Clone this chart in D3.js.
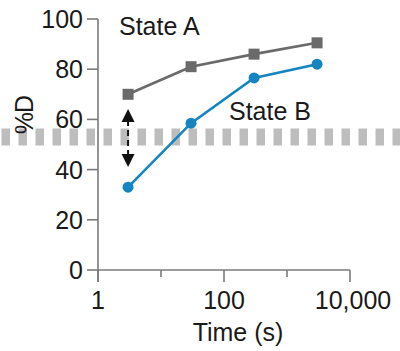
<!DOCTYPE html>
<html>
<head>
<meta charset="utf-8">
<script src="https://cdn.jsdelivr.net/npm/d3@7"></script>
<style>
  html, body { margin: 0; padding: 0; background: #fff; }
  svg { display: block; }
  text { font-family: "Liberation Sans", Arial, Helvetica, sans-serif; fill: #1a1a1a; }
</style>
</head>
<body>
<script>
// Time points (s) and %D for the two states
const times = [3, 30, 300, 3000];
const stateA = [70, 81, 86, 90.5];
const stateB = [33, 58.5, 76.5, 82];
const yTicks = [0, 20, 40, 60, 80, 100];
const xTicks = [1, 10, 100, 1000, 10000];
const xLabels = {1: "1", 100: "100", 10000: "10,000"};
const bandLevel = 53;   // dashed reference band
const seriesLabels = ["State A", "State B"];

const W = 400, H = 351;
const svg = d3.select("body").append("svg").attr("width", W).attr("height", H);

const x = d3.scaleLog().domain([1, 10000]).range([98, 350]);
const y = d3.scaleLinear().domain([0, 100]).range([270, 19]);

const axisColor = "#7a7a7a";
const fs = 25;

// Dashed horizontal band
svg.append("line")
  .attr("x1", 0).attr("x2", W)
  .attr("y1", y(bandLevel)).attr("y2", y(bandLevel))
  .attr("stroke", "#bdbdbd").attr("stroke-width", 17)
  .attr("stroke-dasharray", "8.5,8.5")
  .attr("stroke-dashoffset", -1.5);

// Y axis
const yAxis = svg.append("g");
yAxis.append("line")
  .attr("x1", x(1)).attr("x2", x(1))
  .attr("y1", y(100)).attr("y2", y(0) + 12)
  .attr("stroke", axisColor).attr("stroke-width", 1.6);
yAxis.selectAll("line.tick").data(yTicks).join("line")
  .attr("class", "tick")
  .attr("x1", x(1) - 11).attr("x2", x(1))
  .attr("y1", d => y(d)).attr("y2", d => y(d))
  .attr("stroke", axisColor).attr("stroke-width", 1.6);
yAxis.selectAll("text").data(yTicks).join("text")
  .attr("x", x(1) - 15).attr("y", d => y(d))
  .attr("dy", "0.36em")
  .attr("text-anchor", "end")
  .attr("font-size", fs)
  .text(d => d);

// X axis
const xAxis = svg.append("g");
xAxis.append("line")
  .attr("x1", x(1)).attr("x2", x(10000))
  .attr("y1", y(0)).attr("y2", y(0))
  .attr("stroke", axisColor).attr("stroke-width", 1.6);
xAxis.selectAll("line.tick").data(xTicks).join("line")
  .attr("class", "tick")
  .attr("x1", d => x(d)).attr("x2", d => x(d))
  .attr("y1", y(0)).attr("y2", d => y(0) + (xLabels[d] ? 12 : 7))
  .attr("stroke", axisColor).attr("stroke-width", 1.6);
xAxis.selectAll("text").data(xTicks.filter(d => xLabels[d])).join("text")
  .attr("x", d => x(d) + (d === 10000 ? 3 : 0)).attr("y", 309)
  .attr("text-anchor", "middle")
  .attr("font-size", fs)
  .text(d => xLabels[d]);

// Axis titles
svg.append("text")
  .attr("x", 238).attr("y", 341)
  .attr("text-anchor", "middle")
  .attr("font-size", fs)
  .text("Time (s)");
svg.append("text")
  .attr("transform", "translate(33,115) rotate(-90)")
  .attr("text-anchor", "middle")
  .attr("font-size", fs)
  .attr("letter-spacing", -1)
  .text("%D");

// Double-headed dashed arrow between the first points
const ax = x(times[0]);
svg.append("line")
  .attr("x1", ax).attr("x2", ax)
  .attr("y1", 120).attr("y2", 156)
  .attr("stroke", "#111").attr("stroke-width", 2)
  .attr("stroke-dasharray", "6,4");
svg.append("path")
  .attr("d", `M${ax},109 L${ax - 6.5},122 L${ax + 6.5},122 Z`)
  .attr("fill", "#111");
svg.append("path")
  .attr("d", `M${ax},167 L${ax - 6.5},154 L${ax + 6.5},154 Z`)
  .attr("fill", "#111");

// Series
const line = d3.line().x(d => x(d[0])).y(d => y(d[1]));
const dataA = times.map((t, i) => [t, stateA[i]]);
const dataB = times.map((t, i) => [t, stateB[i]]);

const grayC = "#6a6a6a", blueC = "#1485c0";

svg.append("path").datum(dataA).attr("d", line)
  .attr("fill", "none").attr("stroke", grayC).attr("stroke-width", 2.6);
svg.selectAll("rect.a").data(dataA).join("rect")
  .attr("class", "a")
  .attr("x", d => x(d[0]) - 5.5).attr("y", d => y(d[1]) - 5.5)
  .attr("width", 11).attr("height", 11)
  .attr("fill", grayC);

svg.append("path").datum(dataB).attr("d", line)
  .attr("fill", "none").attr("stroke", blueC).attr("stroke-width", 2.6);
svg.selectAll("circle.b").data(dataB).join("circle")
  .attr("class", "b")
  .attr("cx", d => x(d[0])).attr("cy", d => y(d[1]))
  .attr("r", 5.5)
  .attr("fill", blueC);

// Series labels
svg.append("text").attr("x", 119).attr("y", 35)
  .attr("font-size", fs).text(seriesLabels[0]);
svg.append("text").attr("x", 229).attr("y", 120)
  .attr("font-size", fs).text(seriesLabels[1]);
</script>
</body>
</html>
